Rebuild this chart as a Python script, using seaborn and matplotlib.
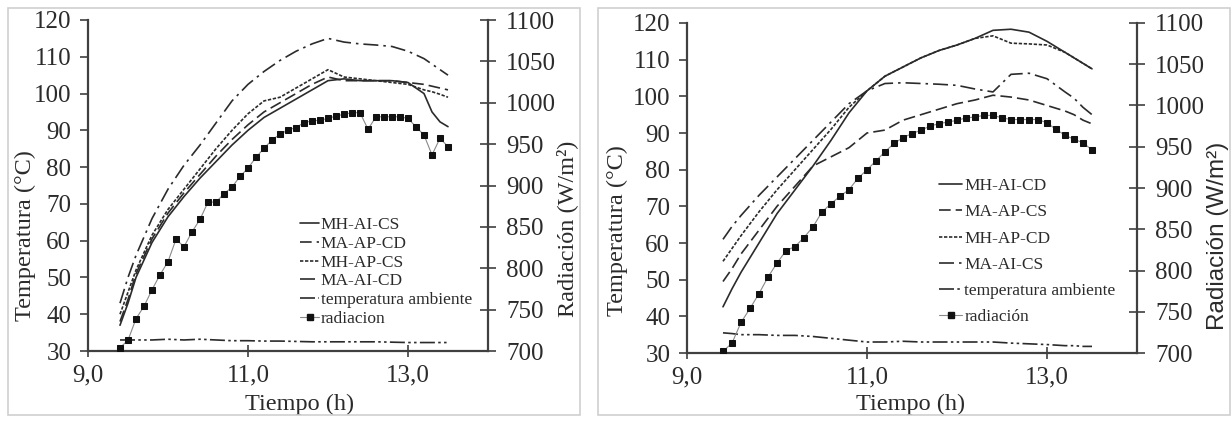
import matplotlib
matplotlib.use("Agg")
import matplotlib.pyplot as plt
import seaborn as sns
from matplotlib.lines import Line2D
from matplotlib.patches import Rectangle

# tiempo (h) para curvas de temperatura y para radiacion
t_temp = [9.4, 9.5, 9.6, 9.8, 10.0, 10.2, 10.4, 10.6, 10.8, 11.0, 11.2, 11.4,
          11.6, 11.8, 12.0, 12.2, 12.4, 12.6, 12.8, 13.0, 13.2, 13.3, 13.4, 13.5]
t_rad = [9.4, 9.5, 9.6, 9.7, 9.8, 9.9, 10.0, 10.1, 10.2, 10.3, 10.4, 10.5, 10.6, 10.7,
         10.8, 10.9, 11.0, 11.1, 11.2, 11.3, 11.4, 11.5, 11.6, 11.7, 11.8, 11.9, 12.0,
         12.1, 12.2, 12.3, 12.4, 12.5, 12.6, 12.7, 12.8, 12.9, 13.0, 13.1, 13.2, 13.3,
         13.4, 13.5]

# panel izquierdo
a_mh_ai_cs = [37, 43, 50, 59.5, 66.5, 72, 77, 81.5, 86, 90, 93.5, 96, 98.5, 101,
              103.5, 104, 103.5, 103.5, 103.5, 103, 100, 95, 92.3, 91]
a_ma_ap_cd = [38, 44, 51, 60.5, 67.5, 73, 78, 83, 87.5, 91.5, 95, 97.5, 100, 102.5,
              104.5, 103.5, 103.5, 103.5, 103.5, 103, 102.5, 102, 101.5, 101]
a_mh_ap_cs = [40, 46, 52, 61.5, 68.5, 74, 79.5, 85, 90, 94.5, 98, 99, 101.5, 104,
              106.5, 104.5, 104, 103.5, 103, 102.5, 101, 100.5, 99.8, 99]
a_ma_ai_cd = [43, 50, 56, 66, 74, 80.5, 86, 92, 98, 102.5, 106, 109, 111.5, 113.5,
              115, 114, 113.5, 113.2, 112.8, 111.5, 109.5, 108, 106.5, 105]
a_amb = [33, 33, 33, 33, 33.2, 33, 33.2, 33, 32.8, 32.8, 32.7, 32.7, 32.6, 32.5,
         32.5, 32.5, 32.5, 32.5, 32.4, 32.3, 32.3, 32.3, 32.3, 32.3]
a_rad = [704, 713, 739, 754, 774, 792, 808, 835, 826, 844, 859, 880, 880, 890, 898,
         911, 921, 934, 945, 955, 962, 967, 970, 976, 978, 979, 981, 984, 986, 988,
         988, 968, 983, 983, 983, 983, 981, 971, 961, 937, 957, 947]

# panel derecho
b_mh_ai_cd = [42.6, 47.5, 52, 60, 68, 74.5, 81, 88, 95.5, 101.5, 105.5, 108, 110.5,
              112.5, 114, 115.8, 118, 118.3, 117.5, 115, 112, 110.5, 109, 107.5]
b_ma_ap_cs = [49.5, 53, 57, 63.5, 70, 75.5, 81, 83.5, 86, 90, 90.8, 93.5, 95, 96.5,
              98, 99, 100.3, 99.8, 99, 97.5, 96, 95, 93.5, 92.5]
b_mh_ap_cd = [55, 58.5, 62, 68.5, 74.5, 80, 85.5, 91, 97, 101.5, 105.5, 108, 110.5,
              112.5, 114, 115.8, 116.5, 114.5, 114.3, 114, 112, 110.5, 109, 107.5]
b_ma_ai_cs = [61, 64.5, 67.5, 73, 78, 83, 88, 93, 98, 101.5, 103.5, 103.7, 103.5,
              103.3, 103, 102, 101.2, 106, 106.3, 104.8, 101.2, 99.5, 97, 95]
b_amb = [35.5, 35.3, 35, 35, 34.8, 34.8, 34.5, 34, 33.5, 33, 33, 33.2, 33, 33, 33,
         33, 33, 32.7, 32.5, 32.3, 32, 32, 31.8, 31.8]
b_rad = [702, 712, 737, 754, 772, 792, 809, 824, 829, 840, 853, 871, 881, 890, 898,
         912, 922, 933, 944, 954, 961, 966, 970, 975, 978, 980, 982, 985, 986, 988,
         988, 985, 983, 983, 983, 983, 979, 971, 964, 959, 955, 946]

labels_a = ["MH-AI-CS", "MA-AP-CD", "MH-AP-CS", "MA-AI-CD", "temperatura ambiente", "radiacion"]
labels_b = ["MH-AI-CD", "MA-AP-CS", "MH-AP-CD", "MA-AI-CS", "temperatura ambiente", "radiación"]
x_ticks = [9, 11, 13]
x_tick_labels = ["9,0", "11,0", "13,0"]

sns.set_theme(style="white")
plt.rcParams["font.family"] = ["Liberation Serif", "DejaVu Serif"]

INK = "#2b2b2b"
SPINE = "#404040"
styles = ["-", (0, (7, 3)), (0, (2, 1)), (0, (9, 3, 1.5, 3)), (0, (9, 2, 1.5, 2, 1.5, 2))]

fig = plt.figure(figsize=(12.32, 4.23), dpi=100)

# marcos grises de cada panel
for x0, w in [(8, 572), (598, 632)]:
    fig.add_artist(Rectangle((x0 / 1232, 8 / 423), w / 1232, 407 / 423,
                             transform=fig.transFigure, fill=False,
                             ec="#cfcfcf", lw=1.2))


def panel(rect, series, rad, labels, leg_anchor, leg_spacing, handlelen,
          xlab_xy, tlab_xy, rlab_xy, rlab_font):
    ax = fig.add_axes(rect)
    ax2 = ax.twinx()
    for vals, ls in zip(series, styles):
        sns.lineplot(x=t_temp, y=vals, ax=ax, color=INK, lw=1.2, linestyle=ls,
                     legend=False)
    sns.lineplot(x=t_rad, y=rad, ax=ax2, color="#8a8a8a", lw=0.8, marker="s",
                 markersize=5, markerfacecolor="#111111", markeredgecolor="#111111",
                 legend=False)
    ax.set_xlim(9, 14)
    ax.set_ylim(30, 120)
    ax2.set_ylim(700, 1100)
    ax.set_xticks(x_ticks)
    ax.set_xticklabels(x_tick_labels)
    ax.set_yticks(range(30, 121, 10))
    ax2.set_yticks(range(700, 1101, 50))

    for a in (ax, ax2):
        a.spines["top"].set_visible(False)
        for s in a.spines.values():
            s.set_color(SPINE)
            s.set_linewidth(1.6)
        a.grid(False)
    ax.spines["right"].set_visible(False)
    ax2.spines["left"].set_visible(False)
    ax2.spines["bottom"].set_visible(False)

    ax.tick_params(axis="x", direction="inout", length=9, width=1.2, color=SPINE,
                   pad=5, labelsize=18, labelcolor=INK, bottom=True)
    ax.tick_params(axis="y", direction="out", length=6, width=1.2, color=SPINE,
                   pad=6, labelsize=18, labelcolor=INK, left=True)
    ax2.tick_params(axis="y", direction="inout", length=12, width=1.2, color=SPINE,
                    pad=7, labelsize=18, labelcolor=INK, right=True)

    ax.set_xlabel("Tiempo (h)", fontsize=17.5, color=INK)
    ax.xaxis.set_label_coords(*xlab_xy)
    ax.set_ylabel("Temperatura (°C)", fontsize=17.5, color=INK)
    ax.yaxis.set_label_coords(*tlab_xy)
    ax2.set_ylabel("Radiación (W/m²)", fontsize=17.5, color=INK,
                   family=rlab_font)
    ax2.yaxis.set_label_coords(*rlab_xy)

    handles = [Line2D([], [], color=INK, lw=1.2, linestyle=ls) for ls in styles]
    handles.append(Line2D([], [], color="#8a8a8a", lw=0.8, marker="s", markersize=5,
                          markerfacecolor="#111111", markeredgecolor="#111111"))
    ax2.legend(handles, labels, loc="upper left", bbox_to_anchor=leg_anchor,
               frameon=False, fontsize=12.5, handlelength=handlelen,
               handletextpad=0.1, labelspacing=leg_spacing, borderpad=0,
               borderaxespad=0, labelcolor=INK)
    return ax, ax2


panel([88 / 1232, 72 / 423, 400 / 1232, 331 / 423],
      [a_mh_ai_cs, a_ma_ap_cd, a_mh_ap_cs, a_ma_ai_cd, a_amb], a_rad, labels_a,
      (0.53, 0.405), 0.15, 1.1,
      (0.53, -0.13), (-0.13, 0.35), (1.17, 0.37),
      ["Liberation Serif", "DejaVu Serif"])

panel([687 / 1232, 70 / 423, 450 / 1232, 330 / 423],
      [b_mh_ai_cd, b_ma_ap_cs, b_mh_ap_cd, b_ma_ai_cs, b_amb], b_rad, labels_b,
      (0.56, 0.53), 0.58, 1.35,
      (0.496, -0.125), (-0.13, 0.37), (1.155, 0.355),
      ["Liberation Sans", "DejaVu Sans"])

fig.savefig("out.png", dpi=100, facecolor="white")
